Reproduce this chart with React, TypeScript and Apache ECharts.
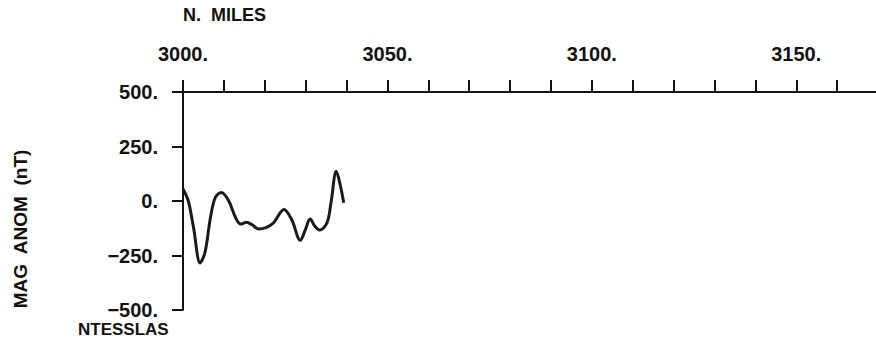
import React, { useEffect, useRef } from "react";
import * as echarts from "echarts";

const miles = [0, 1.3, 2.6, 4.2, 5.4, 6.7, 7.9, 9.4, 11.2, 12.9, 14.1, 15.5, 16.9, 18.4, 20.3, 22.1, 24.7, 26.6, 28.7, 29.9, 31.1, 32.3, 33.4, 35.2, 36.2, 37.5, 38.5, 39.3];
const magAnom = [55, 0, -125, -284, -234, -78, 16, 39, 0, -78, -106, -98, -109, -128, -122, -101, -39, -86, -180, -133, -83, -117, -133, -101, -8, 136, 70, -8];
const xStart = 3000;
const xTicksLabelEvery = 50;
const yTicks = [-500, -250, 0, 250, 500];

const FONT = "Liberation Sans";

export default function App() {
  const ref = useRef<HTMLDivElement>(null);
  useEffect(() => {
    if (!ref.current) return;
    const chart = echarts.init(ref.current, null, { renderer: "svg" });
    const data = miles.map((m, i) => [xStart + m, magAnom[i]]);
    chart.setOption({
      animation: false,
      backgroundColor: "#ffffff",
      grid: { left: 183, top: 92, right: 0, bottom: 36, containLabel: false },
      xAxis: {
        type: "value",
        position: "top",
        min: 3000,
        max: 3169.5,
        interval: 10,
        splitLine: { show: false },
        axisLine: { show: true, onZero: false, lineStyle: { color: "#111", width: 2 } },
        axisTick: { show: true, inside: false, length: 12, lineStyle: { color: "#111", width: 2 } },
        axisLabel: {
          margin: 28,
          showMaxLabel: false,
          color: "#111",
          fontFamily: FONT,
          fontWeight: "bold",
          fontSize: 20,
          formatter: (v: number) => (Math.round(v) % xTicksLabelEvery === 0 ? `${Math.round(v)}.` : ""),
        },
      },
      yAxis: {
        type: "value",
        min: yTicks[0],
        max: yTicks[yTicks.length - 1],
        interval: 250,
        splitLine: { show: false },
        axisLine: { show: true, onZero: false, lineStyle: { color: "#111", width: 2 } },
        axisTick: { show: true, inside: false, length: 11, lineStyle: { color: "#111", width: 2 } },
        axisLabel: {
          margin: 25,
          color: "#111",
          fontFamily: FONT,
          fontWeight: "bold",
          fontSize: 20,
          lineHeight: 18,
          formatter: (v: number) => `${v < 0 ? "\u2212" + Math.abs(v) : v}.`,
        },
      },
      graphic: [
        {
          type: "text",
          left: 183,
          top: 6,
          style: { text: "N.  MILES", fill: "#111", font: `bold 18px "${FONT}"` },
        },
        {
          type: "text",
          left: 78,
          top: 321,
          style: { text: "NTESSLAS", fill: "#111", font: `bold 17px "${FONT}"` },
        },
        {
          type: "text",
          x: 20,
          y: 229,
          rotation: Math.PI / 2,
          style: {
            text: "MAG  ANOM  (nT)",
            fill: "#111",
            font: `bold 19px "${FONT}"`,
            align: "center",
            verticalAlign: "middle",
          },
        },
      ],
      series: [
        {
          type: "line",
          data,
          smooth: 0.35,
          showSymbol: false,
          lineStyle: { color: "#1a1a1a", width: 3 },
        },
      ],
    });
    return () => chart.dispose();
  }, []);
  return (
    <div
      ref={ref}
      style={{ position: "fixed", left: 0, top: 0, width: 876, height: 346, background: "#fff" }}
    />
  );
}
